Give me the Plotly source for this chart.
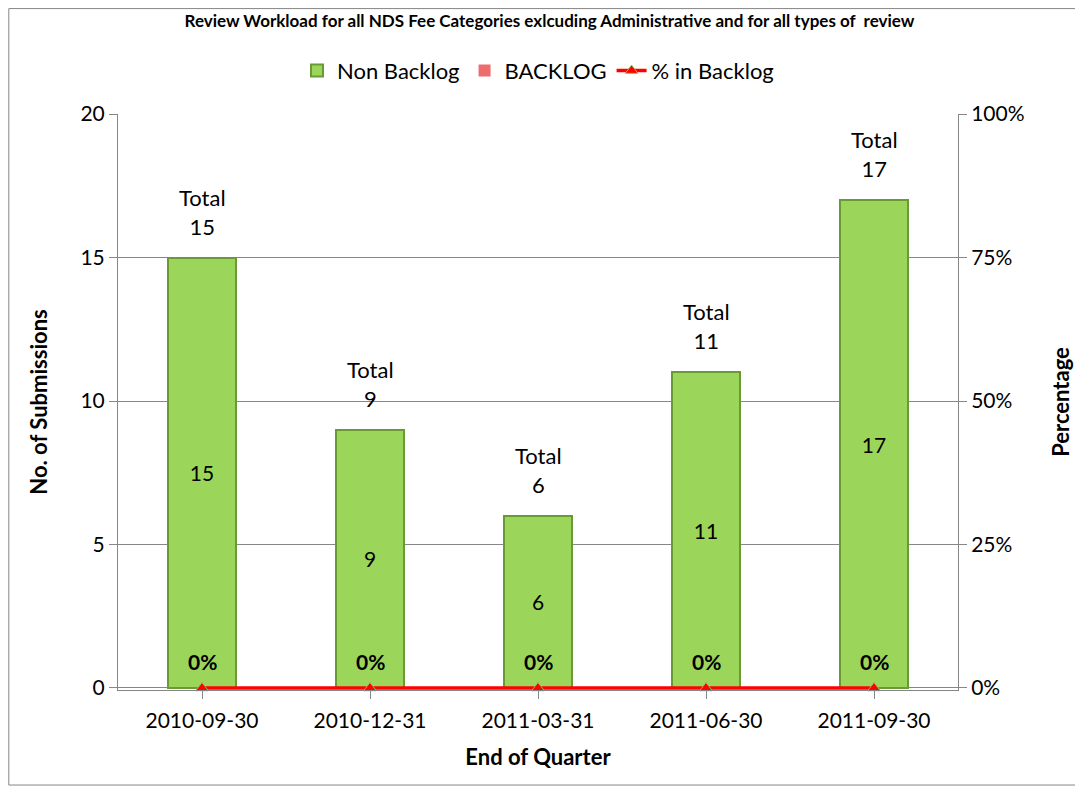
import plotly.graph_objects as go

quarters = ['2010-09-30', '2010-12-31', '2011-03-31', '2011-06-30', '2011-09-30']
non_backlog = [15, 9, 6, 11, 17]
backlog = [0, 0, 0, 0, 0]
pct_backlog = [0, 0, 0, 0, 0]
totals = [n + b for n, b in zip(non_backlog, backlog)]

FONT = 'Lato'

fig = go.Figure()
fig.add_trace(go.Bar(
    name='Non Backlog', x=quarters, y=non_backlog,
    text=[str(v) for v in non_backlog], textposition='inside',
    insidetextanchor='middle', textangle=0,
    textfont=dict(size=21, color='black', family=FONT),
    marker=dict(color='#9bd65a', line=dict(color='#6a9a36', width=2)),
    width=0.4,
))
fig.add_trace(go.Bar(
    name='BACKLOG', x=quarters, y=backlog,
    marker=dict(color='#ee6b6e', line=dict(color='#ee6b6e', width=0)),
    width=0.4,
))
fig.add_trace(go.Scatter(
    name='% in Backlog', x=quarters, y=pct_backlog, yaxis='y2',
    mode='lines+markers', cliponaxis=False,
    line=dict(color='#ff0000', width=3.5),
    marker=dict(symbol='triangle-up', size=11, color='#ff0000',
                line=dict(color='#9bbb59', width=1)),
))

# total labels above bars
for q, t in zip(quarters, totals):
    fig.add_annotation(x=q, y=t, text=f'Total<br>{t}', showarrow=False,
                       yanchor='bottom', yshift=16,
                       font=dict(size=22, family=FONT, color='black'))
# percentage labels near the bottom
for q, p in zip(quarters, pct_backlog):
    fig.add_annotation(x=q, y=p, yref='y2', text=f'<b>{p}%</b>', showarrow=False,
                       yanchor='bottom', yshift=12,
                       font=dict(size=21, family=FONT, color='black'))

fig.update_layout(
    width=1083, height=790,
    paper_bgcolor='white', plot_bgcolor='white',
    margin=dict(l=110, r=133, t=106, b=108),
    barmode='stack', bargap=0.6,
    font=dict(family=FONT, size=21, color='black'),
    title=dict(text='<b>Review Workload for all NDS Fee Categories exlcuding Administrative and for all types of  review</b>',
               x=0.5, xanchor='center', y=0.9835, yanchor='middle',
               font=dict(size=17, family=FONT)),
    legend=dict(orientation='h', x=0.5, xanchor='center', y=1.075, yanchor='middle',
                traceorder='normal', font=dict(size=22, family=FONT)),
    xaxis=dict(type='category', showline=True, linecolor='#868686', ticks='outside',
               ticklen=8, tickcolor='#868686', tickfont=dict(size=21), ticklabelstandoff=4,
               title=dict(text='<b>End of Quarter</b>', font=dict(size=22), standoff=18)),
    yaxis=dict(range=[-0.07, 20], tickvals=[0, 5, 10, 15, 20], showgrid=True, gridcolor='#868686',
               showline=True, linecolor='#868686', ticks='outside', ticklen=8,
               tickcolor='#868686', tickfont=dict(size=21), zeroline=False,
               title=dict(text='<b>No. of Submissions</b>', font=dict(size=22), standoff=26)),
    yaxis2=dict(range=[-0.0035, 1], tickvals=[0, 0.25, 0.5, 0.75, 1], tickformat='.0%',
                overlaying='y', side='right',
                showgrid=False, showline=True, linecolor='#868686', ticks='outside',
                ticklen=8, tickcolor='#868686', tickfont=dict(size=21), zeroline=False,
                title=dict(text='<b>Percentage</b>', font=dict(size=22), standoff=30)),
    shapes=[dict(type='rect', xref='paper', yref='paper', x0=-0.13, x1=1.145,
                 y0=-0.165, y1=1.183, line=dict(color='#868686', width=1))],
)

fig.write_html('out.html')
